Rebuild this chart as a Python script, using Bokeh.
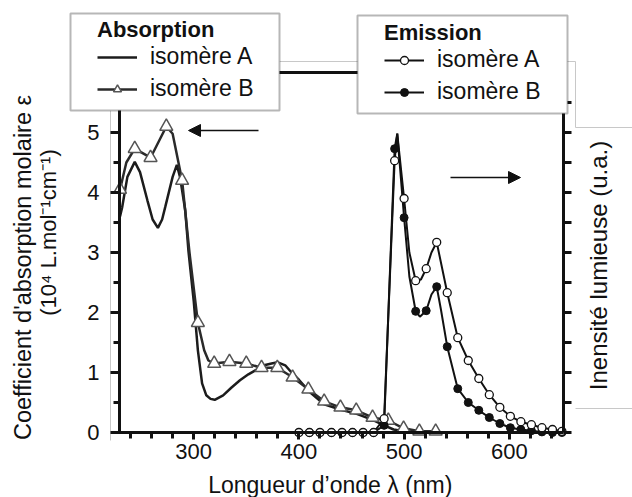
import math
from bokeh.plotting import figure
from bokeh.models import (Range1d, LinearAxis, FixedTicker, Legend, LegendItem, Label,
                          BoxAnnotation, Arrow, NormalHead)
from bokeh.embed import file_html
from bokeh.resources import INLINE

FONT = "Liberation Sans"
INK = "#111111"

# ---------------- data ----------------
# Absorption, isomer A (solid line, no markers)
abs_a_x = [230, 232, 237, 244, 249, 256, 261, 266, 270, 273, 280, 284, 287, 292, 295, 300, 304, 308,
           312, 316, 320, 328, 336, 344, 352, 360, 367, 374, 380, 387, 393, 400, 410, 424, 440, 455,
           470, 481, 490, 500, 510, 525]
abs_a_y = [3.6, 3.75, 4.26, 4.51, 4.34, 3.87, 3.55, 3.41, 3.55, 3.76, 4.26, 4.46, 4.26, 3.7, 3.03, 2.2,
           1.37, 0.82, 0.62, 0.56, 0.545, 0.62, 0.75, 0.87, 0.97, 1.05, 1.12, 1.15, 1.17, 1.12, 1.0,
           0.88, 0.68, 0.47, 0.38, 0.31, 0.21, 0.12, 0.05, 0.02, 0.0, 0.0]

# Absorption, isomer B (triangles)
abs_b_x = [230, 244, 259, 274, 289, 304, 319.5, 334, 350, 364.5, 379.5, 394, 409, 424, 439.5, 454.5,
           470, 485, 499.5, 514.5, 530]
abs_b_y = [4.05, 4.73, 4.58, 5.10, 4.20, 1.83, 1.15, 1.18, 1.15, 1.08, 1.08, 0.92, 0.72, 0.52, 0.42,
           0.37, 0.25, 0.20, 0.07, 0.02, 0.02]
abs_b_line_x = [230, 236, 244, 259, 274, 280, 289, 296, 304, 310, 314, 319.5, 334, 350, 364.5, 379.5,
                394, 409, 424, 439.5, 454.5, 470, 485, 499.5, 514.5, 530]
abs_b_line_y = [4.05, 4.5, 4.73, 4.58, 5.10, 4.98, 4.20, 3.0, 1.83, 1.37, 1.2, 1.15, 1.18, 1.15, 1.08,
                1.08, 0.92, 0.72, 0.52, 0.42, 0.37, 0.25, 0.20, 0.07, 0.02, 0.02]

# Emission (right axis, arbitrary units)
em_x = [400, 410, 420, 431, 441, 451, 461, 471, 481, 491, 500, 511, 521, 531, 541, 551, 561, 571, 581,
        591, 601, 611, 621, 631, 641, 650]
em_a_y = [0, 0, 0, 0, 0, 0, 0, 0, 0.23, 4.53, 3.90, 2.53, 2.73, 3.17, 2.33, 1.58, 1.20, 0.90, 0.63,
          0.42, 0.27, 0.18, 0.13, 0.08, 0.05, 0.02]
em_b_y = [0, 0, 0, 0, 0, 0, 0, 0, 0.12, 4.73, 3.58, 2.02, 2.03, 2.43, 1.43, 0.73, 0.50, 0.37, 0.25,
          0.15, 0.08, 0.05, 0.03, 0.01, 0.0, 0.0]
em_a_line_x = [400, 471, 481, 491, 493.5, 500, 505, 511, 516, 521, 526, 531, 541, 551, 561, 571, 581,
               591, 601, 611, 621, 631, 641, 650]
em_a_line_y = [0, 0, 0.23, 4.53, 4.98, 3.90, 3.0, 2.53, 2.55, 2.73, 3.0, 3.17, 2.33, 1.58, 1.20, 0.90,
               0.63, 0.42, 0.27, 0.18, 0.13, 0.08, 0.05, 0.02]
em_b_line_x = [400, 471, 481, 491, 493.5, 500, 505, 511, 515, 521, 526, 531, 535, 541, 551, 561, 571,
               581, 591, 601, 611, 621, 631, 641, 650]
em_b_line_y = [0, 0, 0.12, 4.73, 4.98, 3.58, 2.6, 2.02, 1.93, 2.03, 2.3, 2.43, 2.05, 1.43, 0.73, 0.50,
               0.37, 0.25, 0.15, 0.08, 0.05, 0.03, 0.01, 0.0, 0.0]

x_major = [300, 400, 500, 600]
x_minor = list(range(240, 660, 20))
y_major = [0, 1, 2, 3, 4, 5]
y_minor = [0.5, 1.5, 2.5, 3.5, 4.5, 5.5]
y_right = [0, 0.5, 1, 1.5, 2, 2.5, 3, 3.5, 4, 4.5, 5, 5.5]

# plotting box (data coords) and the whole-canvas view around it
X_LO, X_HI, Y_LO, Y_HI = 229.5, 651.5, 0.0, 6.0
W, H = 632, 497
PX_L, PX_R, PX_T, PX_B = 119, 563, 72, 432          # where the plotting box sits on the canvas
sx = (X_HI - X_LO) / (PX_R - PX_L)
sy = (Y_HI - Y_LO) / (PX_B - PX_T)
xr = Range1d(X_LO - PX_L * sx, X_LO + (W - PX_L) * sx)
yr = Range1d(Y_LO - (H - PX_B) * sy, Y_LO + PX_B * sy)


def data_x(px):
    return xr.start + px * sx


def data_y(py):
    return yr.end - py * sy


p = figure(width=W, height=H, output_backend="svg", toolbar_location=None,
           x_range=xr, y_range=yr, x_axis_type=None, y_axis_type=None,
           min_border=0, min_border_left=0, min_border_right=0,
           min_border_top=0, min_border_bottom=0)
p.title.visible = False
p.outline_line_color = None
p.background_fill_color = "white"
p.border_fill_color = "white"


def style_axis(ax, major_out, minor_out):
    ax.axis_line_width = 3
    ax.axis_line_color = INK
    ax.major_tick_line_width = 3
    ax.minor_tick_line_width = 3
    ax.major_tick_line_color = INK
    ax.minor_tick_line_color = INK
    ax.major_tick_in = 0
    ax.minor_tick_in = 0
    ax.major_tick_out = major_out
    ax.minor_tick_out = minor_out
    ax.major_label_text_font = FONT
    ax.major_label_text_font_size = "22px"
    ax.major_label_text_color = INK


def thin_rule(side, loc, lo, hi):
    """faint grey framing rule of the original figure (drawn as a tick-less axis line)"""
    ax = LinearAxis(ticker=FixedTicker(ticks=[], minor_ticks=[]), fixed_location=loc, bounds=(lo, hi),
                    axis_line_color="#c8c8c8", axis_line_width=1, major_tick_out=0, minor_tick_out=0)
    p.add_layout(ax, side)


thin_rule("left", data_x(110), data_y(440), data_y(110))
thin_rule("above", data_y(61), data_x(279), data_x(575))
thin_rule("right", data_x(575), data_y(127), data_y(61))
thin_rule("above", data_y(127), data_x(575), data_x(632))
thin_rule("below", data_y(408), data_x(575), data_x(632))

xa = LinearAxis(ticker=FixedTicker(ticks=x_major, minor_ticks=x_minor),
                fixed_location=Y_LO, bounds=(221, X_HI))
style_axis(xa, 7, 6)
xa.major_label_standoff = 4
p.add_layout(xa, "below")

ya = LinearAxis(ticker=FixedTicker(ticks=y_major, minor_ticks=y_minor),
                fixed_location=X_LO, bounds=(Y_LO, Y_HI))
style_axis(ya, 9, 6)
ya.major_label_standoff = 11
p.add_layout(ya, "left")

ra = LinearAxis(ticker=FixedTicker(ticks=y_right, minor_ticks=[]),
                fixed_location=X_HI, bounds=(Y_LO, Y_HI))
style_axis(ra, 8, 0)
ra.major_label_overrides = {t: "" for t in y_right}
p.add_layout(ra, "right")

ta = LinearAxis(ticker=FixedTicker(ticks=[], minor_ticks=[]),
                fixed_location=Y_HI, bounds=(X_LO, X_HI))
style_axis(ta, 0, 0)
p.add_layout(ta, "above")

# ---------------- data glyphs ----------------
r_abs_a = p.line(abs_a_x, abs_a_y, line_width=2.5, line_color="#1c1c1c")
r_abs_b_line = p.line(abs_b_line_x, abs_b_line_y, line_width=2.5, line_color="#2a2a2a")
r_abs_b_pts = p.scatter(abs_b_x, abs_b_y, marker="triangle", size=13, fill_color="white",
                        line_color="#555555", line_width=1.5)

r_em_b_line = p.line(em_b_line_x, em_b_line_y, line_width=2, line_color=INK)
r_em_a_line = p.line(em_a_line_x, em_a_line_y, line_width=2, line_color=INK)
r_em_b_pts = p.scatter(em_x, em_b_y, marker="circle", size=8, fill_color=INK, line_color=INK)
r_em_a_pts = p.scatter(em_x, em_a_y, marker="circle", size=8, fill_color="white", line_color=INK,
                       line_width=1.3)

# ---------------- legend boxes ----------------
p.add_layout(BoxAnnotation(left=data_x(70), right=data_x(279), top=data_y(13), bottom=data_y(110),
                           fill_color="white", fill_alpha=1, line_color=INK, line_width=2))
p.add_layout(BoxAnnotation(left=data_x(357), right=data_x(567), top=data_y(15), bottom=data_y(113),
                           fill_color="white", fill_alpha=1, line_color=INK, line_width=2))


def make_legend(title, items, loc):
    return Legend(items=items, title=title, location=loc, orientation="vertical",
                  title_text_font=FONT, title_text_font_size="22px", title_text_font_style="bold",
                  title_text_color=INK, title_standoff=0,
                  label_text_font=FONT, label_text_font_size="23px", label_text_color=INK,
                  label_text_baseline="middle",
                  glyph_width=40, glyph_height=20, label_height=20, label_standoff=13,
                  spacing=5, padding=0, margin=0,
                  border_line_color=None, background_fill_alpha=0)


leg_abs = make_legend("Absorption",
                      [LegendItem(label="isomère A", renderers=[r_abs_a]),
                       LegendItem(label="isomère B", renderers=[r_abs_b_line, r_abs_b_pts])],
                      (97, H - 102))
leg_em = make_legend("Emission",
                     [LegendItem(label="isomère A", renderers=[r_em_a_line, r_em_a_pts]),
                      LegendItem(label="isomère B", renderers=[r_em_b_line, r_em_b_pts])],
                     (384, H - 105))
p.add_layout(leg_abs, "center")
p.add_layout(leg_em, "center")

# ---------------- arrows ----------------
p.add_layout(Arrow(end=NormalHead(size=12, fill_color=INK, line_color=INK),
                   x_start=data_x(258), y_start=data_y(130), x_end=data_x(188), y_end=data_y(130),
                   line_width=1.5, line_color=INK))
p.add_layout(Arrow(end=NormalHead(size=12, fill_color=INK, line_color=INK),
                   x_start=data_x(450), y_start=data_y(177), x_end=data_x(520), y_end=data_y(177),
                   line_width=1.5, line_color=INK))

# ---------------- axis titles ----------------
common = dict(text_font=FONT, text_color=INK, text_align="center", text_baseline="middle")
p.add_layout(Label(x=data_x(22), y=data_y(267), text="Coefficient d'absorption molaire ε",
                   angle=math.pi / 2, text_font_size="23.5px", **common))
p.add_layout(Label(x=data_x(48), y=data_y(232), text="(10⁴ L.mol⁻¹cm⁻¹)",
                   angle=math.pi / 2, text_font_size="22px", **common))
p.add_layout(Label(x=data_x(598), y=data_y(265), text="Inensité lumieuse (u.a.)",
                   angle=math.pi / 2, text_font_size="24px", **common))
p.add_layout(Label(x=data_x(333), y=data_y(484), text="Longueur d’onde λ  (nm)",
                   text_font_size="23px", **common))

open("out.html", "w").write(file_html(p, INLINE))
